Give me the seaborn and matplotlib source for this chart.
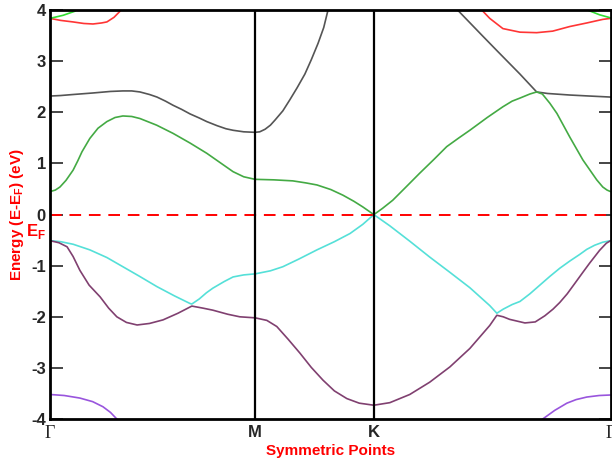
import numpy as np
import seaborn as sns
import matplotlib
matplotlib.use("Agg")
import matplotlib.pyplot as plt

# ── high-symmetry path (hexagonal BZ: Γ-M-K-Γ) ────────────────────────────────
k_labels = ["Γ", "M", "K", "Γ"]
k_ticks = [0.0, 0.577, 0.911, 1.577]

# ── bands (k along path, E - E_F in eV) ───────────────────────────────────────
gray_k = [0, 0.03, 0.065, 0.121, 0.17, 0.205, 0.23, 0.253, 0.28, 0.301, 0.325, 0.346,
          0.37, 0.394, 0.42, 0.441, 0.47, 0.495, 0.515, 0.545, 0.577,
          0.59, 0.605, 0.62, 0.633, 0.655, 0.675, 0.695, 0.717, 0.735, 0.754, 0.77, 0.782, 0.815,
          1.097, 1.147, 1.215, 1.257, 1.322, 1.369, 1.40, 1.462, 1.518, 1.577]
gray_e = [2.32, 2.33, 2.35, 2.38, 2.41, 2.42, 2.42, 2.40, 2.35, 2.30, 2.22, 2.14,
          2.06, 1.97, 1.89, 1.82, 1.74, 1.68, 1.65, 1.62, 1.61,
          1.62, 1.67, 1.75, 1.85, 2.03, 2.25, 2.48, 2.75, 3.03, 3.35, 3.66, 4.00, 4.60,
          4.30, 4.00, 3.51, 3.21, 2.75, 2.40, 2.37, 2.34, 2.32, 2.30]

green_k = [0, 0.015, 0.028, 0.045, 0.065, 0.078, 0.090, 0.112, 0.135, 0.160, 0.183, 0.205,
           0.23, 0.253, 0.30, 0.346, 0.394, 0.441, 0.48, 0.515, 0.545, 0.577,
           0.63, 0.683, 0.72, 0.751, 0.79, 0.824, 0.855, 0.880, 0.911,
           0.935, 0.964, 1.0, 1.040, 1.08, 1.116, 1.15, 1.181, 1.23, 1.274, 1.30, 1.322,
           1.35, 1.369, 1.385, 1.406, 1.426, 1.462, 1.499, 1.538, 1.555, 1.567, 1.577]
green_e = [0.45, 0.48, 0.54, 0.67, 0.87, 1.05, 1.23, 1.49, 1.69, 1.82, 1.90, 1.93,
           1.92, 1.88, 1.75, 1.59, 1.40, 1.20, 1.01, 0.84, 0.74, 0.69,
           0.68, 0.66, 0.62, 0.58, 0.49, 0.38, 0.26, 0.15, 0.00,
           0.12, 0.28, 0.53, 0.81, 1.08, 1.33, 1.50, 1.65, 1.90, 2.11, 2.22, 2.28,
           2.36, 2.40, 2.36, 2.18, 1.98, 1.52, 1.07, 0.68, 0.54, 0.48, 0.45]

cyan_k = [0, 0.03, 0.065, 0.112, 0.16, 0.205, 0.25, 0.301, 0.35, 0.394, 0.399,
          0.42, 0.44, 0.458, 0.49, 0.515, 0.545, 0.577,
          0.62, 0.655, 0.70, 0.751, 0.80, 0.844, 0.88, 0.911,
          0.956, 1.012, 1.068, 1.125, 1.181, 1.237, 1.257, 1.275, 1.30, 1.322, 1.35,
          1.378, 1.406, 1.434, 1.462, 1.490, 1.51, 1.532, 1.555, 1.577]
cyan_e = [-0.51, -0.53, -0.58, -0.69, -0.84, -1.02, -1.20, -1.41, -1.59, -1.74, -1.75,
          -1.65, -1.53, -1.44, -1.31, -1.22, -1.18, -1.16,
          -1.10, -1.02, -0.87, -0.69, -0.53, -0.37, -0.19, 0.00,
          -0.22, -0.52, -0.83, -1.13, -1.43, -1.78, -1.93, -1.85, -1.76, -1.70, -1.55,
          -1.38, -1.21, -1.05, -0.91, -0.78, -0.68, -0.60, -0.54, -0.51]

maroon_k = [0, 0.025, 0.048, 0.065, 0.084, 0.11, 0.141, 0.165, 0.188, 0.215, 0.245,
            0.28, 0.318, 0.36, 0.399, 0.43, 0.458, 0.50, 0.534, 0.577,
            0.61, 0.638, 0.67, 0.703, 0.735, 0.768, 0.80, 0.835, 0.87, 0.911,
            0.956, 1.012, 1.068, 1.125, 1.181, 1.237, 1.257, 1.275, 1.293, 1.336, 1.365,
            1.392, 1.415, 1.434, 1.455, 1.476, 1.50, 1.518, 1.546, 1.565, 1.577]
maroon_e = [-0.51, -0.55, -0.63, -0.82, -1.09, -1.38, -1.61, -1.83, -2.00, -2.11, -2.16,
            -2.13, -2.06, -1.93, -1.79, -1.83, -1.87, -1.95, -2.00, -2.02,
            -2.07, -2.19, -2.44, -2.71, -2.99, -3.24, -3.45, -3.60, -3.69, -3.73,
            -3.68, -3.52, -3.28, -2.98, -2.62, -2.17, -1.97, -2.00, -2.05, -2.12, -2.10,
            -1.98, -1.85, -1.72, -1.55, -1.35, -1.12, -0.95, -0.70, -0.56, -0.51]

red_left_k = [0, 0.03, 0.065, 0.095, 0.121, 0.145, 0.160, 0.18, 0.197, 0.220]
red_left_e = [3.84, 3.80, 3.77, 3.74, 3.73, 3.75, 3.77, 3.86, 3.98, 4.30]
red_right_k = [1.190, 1.215, 1.237, 1.274, 1.322, 1.369, 1.414, 1.462, 1.510, 1.555, 1.577]
red_right_e = [4.20, 4.00, 3.84, 3.64, 3.57, 3.56, 3.59, 3.68, 3.75, 3.82, 3.84]

lime_left_k = [0, 0.037, 0.070, 0.090]
lime_left_e = [3.84, 3.90, 3.98, 4.10]
lime_right_k = [1.490, 1.513, 1.546, 1.577]
lime_right_e = [4.10, 4.00, 3.91, 3.85]

violet_left_k = [0, 0.04, 0.084, 0.12, 0.149, 0.17, 0.188, 0.210]
violet_left_e = [-3.52, -3.54, -3.59, -3.66, -3.76, -3.87, -4.00, -4.20]
violet_right_k = [1.360, 1.386, 1.42, 1.454, 1.48, 1.510, 1.545, 1.577]
violet_right_e = [-4.20, -4.00, -3.83, -3.69, -3.62, -3.57, -3.54, -3.53]

bands = [
    (gray_k, gray_e, "#555555"),
    (green_k, green_e, "#44aa44"),
    (cyan_k, cyan_e, "#55e0d8"),
    (maroon_k, maroon_e, "#804070"),
    (red_left_k, red_left_e, "#ff3535"),
    (red_right_k, red_right_e, "#ff3535"),
    (lime_left_k, lime_left_e, "#33dd33"),
    (lime_right_k, lime_right_e, "#33dd33"),
    (violet_left_k, violet_left_e, "#9955dd"),
    (violet_right_k, violet_right_e, "#9955dd"),
]

# ── style ─────────────────────────────────────────────────────────────────────
sns.set_style("ticks")
plt.rcParams["font.family"] = ["Liberation Sans", "DejaVu Sans"]
plt.rcParams["mathtext.fontset"] = "custom"
plt.rcParams["mathtext.rm"] = "Liberation Sans:bold"
plt.rcParams["mathtext.bf"] = "Liberation Sans:bold"

fig = plt.figure(figsize=(6.12, 4.63), dpi=100)
ax = fig.add_axes([0.0817, 0.095, 0.916, 0.883])

for k, e, c in bands:
    sns.lineplot(x=k, y=e, color=c, ax=ax, linewidth=1.2, estimator=None, sort=False)

ax.axhline(0, color="red", linestyle=(0, (6, 4)), linewidth=1.4)
for kt in k_ticks[1:3]:
    ax.axvline(kt, color="black", linewidth=1.6)

ax.set_xlim(k_ticks[0], k_ticks[-1])
ax.set_ylim(-4, 4)
ax.set_yticks(range(-4, 5))
ax.set_yticklabels([str(v) for v in range(-4, 5)], fontsize=12, fontweight="bold")
ax.set_xticks(k_ticks)
ax.set_xticklabels(k_labels, fontsize=12, fontweight="bold")
for lbl in (ax.get_xticklabels()[0], ax.get_xticklabels()[-1]):
    lbl.set_fontfamily(["Liberation Serif", "DejaVu Serif"])
    lbl.set_fontweight("normal")
    lbl.set_fontsize(13)

ax.tick_params(axis="y", direction="in", length=9, width=1.2, left=True, right=True, pad=3)
ax.tick_params(axis="x", length=0, pad=4)
for s in ax.spines.values():
    s.set_linewidth(2)
    s.set_color("black")

ax.set_xlabel("Symmetric Points", color="red", fontsize=11, fontweight="bold", labelpad=2)
ax.set_ylabel(r"Energy (E-E$_\mathbf{F}$) (eV)", color="red", fontsize=11, fontweight="bold")
ax.yaxis.set_label_coords(-0.042, 0.5)
ax.text(-0.008, -0.34, r"E$_\mathbf{F}$", color="red", fontsize=12, fontweight="bold",
        ha="right", va="center", transform=ax.get_yaxis_transform())

fig.savefig("out.png", dpi=100)
